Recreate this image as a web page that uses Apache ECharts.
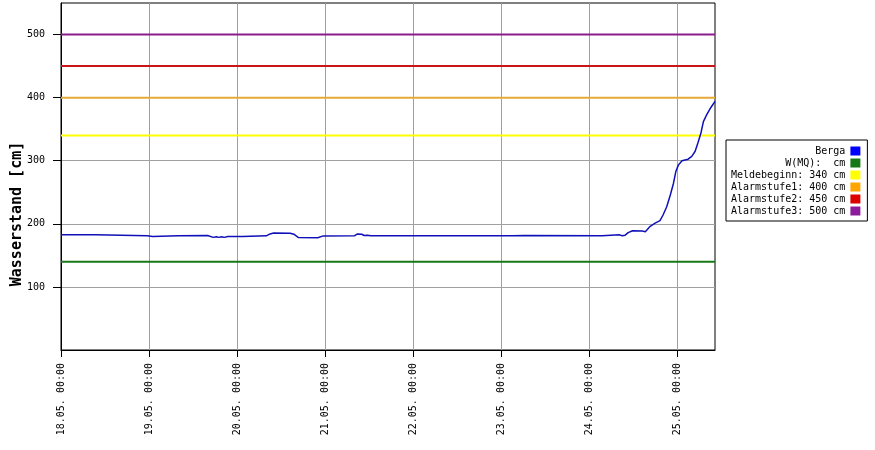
<!DOCTYPE html>
<html>
<head>
<meta charset="utf-8">
<script src="https://cdn.jsdelivr.net/npm/echarts@6/dist/echarts.min.js"></script>
<style>
html,body{margin:0;padding:0;background:#fff;}
#chart{width:875px;height:450px;}
</style>
</head>
<body>
<div id="chart"></div>
<script>
// ---- data ----
const times = [
  "18.05. 00:00","18.05. 09:20","18.05. 09:30","18.05. 23:30","19.05. 00:00","19.05. 01:00","19.05. 01:20",
  "19.05. 08:00","19.05. 08:20","19.05. 16:00","19.05. 16:30","19.05. 17:30","19.05. 18:20","19.05. 19:00",
  "19.05. 19:50","19.05. 20:30","19.05. 21:30","20.05. 01:30","20.05. 01:50","20.05. 08:00","20.05. 09:00",
  "20.05. 10:00","20.05. 14:30","20.05. 15:30","20.05. 16:40","20.05. 22:00","20.05. 22:30","20.05. 23:20",
  "21.05. 08:00","21.05. 08:50","21.05. 10:00","21.05. 10:40","21.05. 11:30","21.05. 12:30","23.05. 03:00",
  "23.05. 03:30","23.05. 06:30","23.05. 07:00","24.05. 03:30","24.05. 04:00","24.05. 08:20","24.05. 09:00",
  "24.05. 09:50","24.05. 10:40","24.05. 11:50","24.05. 14:30","24.05. 15:20","24.05. 16:40","24.05. 18:00",
  "24.05. 19:20","24.05. 20:10","24.05. 21:10","24.05. 22:10","24.05. 23:00","24.05. 23:40","25.05. 00:20",
  "25.05. 01:20","25.05. 03:00","25.05. 04:00","25.05. 04:55","25.05. 05:40","25.05. 06:30","25.05. 07:10",
  "25.05. 08:05","25.05. 09:10","25.05. 10:20"
];
const levels = [
  182.5,182.5,181,181,180,180,181,
  181,181.5,181.5,179.5,178.5,179.5,178.5,
  179.5,178.5,180,180,181,181,184,
  185.5,185,183.5,178.5,178,179.5,180.5,
  181,184,183.5,181.5,182,181,181,
  182,181.5,181,181,182.5,182.5,181,
  182,186,189,188.5,187.5,196,201,
  205,214,227,246,264,283,293,
  300,302.5,307,315,328,344,362,
  373,384,394
];
const stationName = "Berga";
const thresholdNames = ["W(MQ):  cm","Meldebeginn: 340 cm","Alarmstufe1: 400 cm","Alarmstufe2: 450 cm","Alarmstufe3: 500 cm"];
const thresholdValues = [140, 340, 400, 450, 500];
const thresholdColors = ["#187818","#ffff00","#e8a838","#c81414","#8c1c8c"];
const legendColors = ["#0000ff","#187818","#ffff00","#ffa500","#dd0000","#8c1c9c"];
const xTickLabels = ["18.05. 00:00","19.05. 00:00","20.05. 00:00","21.05. 00:00","22.05. 00:00","23.05. 00:00","24.05. 00:00","25.05. 00:00"];
const yTickLabels = [100, 200, 300, 400, 500];
const startLabel = "18.05. 00:00";
const endLabel = "25.05. 10:20";
const yMax = 550;
const yTitle = "Wasserstand [cm]";

// ---- helpers ----
function toHours(s) {
  const m = s.match(/(\d+)\.(\d+)\.\s+(\d+):(\d+)/);
  return (parseInt(m[1]) - 18) * 24 + parseInt(m[3]) + parseInt(m[4]) / 60;
}
const xMin = toHours(startLabel);
const xMax = toHours(endLabel);
const xTicks = xTickLabels.map(toHours);
const labelByHour = {};
xTickLabels.forEach(function (l) { labelByHour[toHours(l)] = l; });

const MONO = "'DejaVu Sans Mono', 'Liberation Mono', monospace";
const PAD = 19;

const series = [{
  name: stationName,
  type: "line",
  data: times.map(function (t, i) { return [toHours(t), levels[i]]; }),
  showSymbol: false,
  symbol: "none",
  lineStyle: { color: "#1010b8", width: 1.5 },
  itemStyle: { color: legendColors[0] },
  z: 5,
  animation: false
}];
thresholdNames.forEach(function (n, i) {
  series.push({
    name: n,
    type: "line",
    data: [[xMin, thresholdValues[i]], [xMax, thresholdValues[i]]],
    showSymbol: false,
    symbol: "none",
    lineStyle: { color: thresholdColors[i], width: 2 },
    itemStyle: { color: legendColors[i + 1] },
    z: 3,
    animation: false
  });
});

const chart = echarts.init(document.getElementById("chart"), null, { renderer: "canvas" });
chart.setOption({
  backgroundColor: "#fff",
  animation: false,
  grid: {
    left: 61, top: 3, right: 160, bottom: 100,
    show: true, borderColor: "#000", borderWidth: 1, backgroundColor: "transparent"
  },
  legend: {
    orient: "vertical",
    left: 726, top: 140,
    align: "right",
    icon: "rect",
    itemWidth: 10, itemHeight: 9,
    itemGap: 0,
    padding: [5, 7, 4, 5],
    borderColor: "#000", borderWidth: 1, backgroundColor: "#fff",
    selectedMode: false,
    textStyle: { fontFamily: MONO, fontSize: 10, color: "#000", lineHeight: 12 },
    formatter: function (name) { return name.padStart(PAD, " "); },
    data: [stationName].concat(thresholdNames)
  },
  xAxis: {
    type: "value",
    min: xMin, max: xMax, interval: 24,
    axisLine: { lineStyle: { color: "#000", width: 1 } },
    axisTick: { show: true, length: 7, lineStyle: { color: "#000" }, customValues: xTicks },
    axisLabel: {
      rotate: 90, margin: 13, fontFamily: MONO, fontSize: 10, color: "#000",
      customValues: xTicks,
      formatter: function (v) { return labelByHour[v] || ""; }
    },
    splitLine: { show: true, lineStyle: { color: "#a0a0a0", width: 1 } }
  },
  yAxis: {
    type: "value",
    min: 0, max: yMax, interval: 100,
    axisLine: { show: true, lineStyle: { color: "#000", width: 1 } },
    axisTick: { show: true, length: 8, lineStyle: { color: "#000" }, customValues: yTickLabels },
    axisLabel: {
      margin: 16, fontFamily: MONO, fontSize: 10, color: "#000",
      customValues: yTickLabels
    },
    splitLine: { show: true, lineStyle: { color: "#a0a0a0", width: 1 } }
  },
  graphic: [{
    type: "text",
    x: 17, y: 214,
    rotation: Math.PI / 2,
    style: {
      text: yTitle,
      fill: "#000",
      font: "bold 15px " + MONO,
      textAlign: "center",
      textVerticalAlign: "middle"
    }
  }],
  series: series
});
</script>
</body>
</html>
